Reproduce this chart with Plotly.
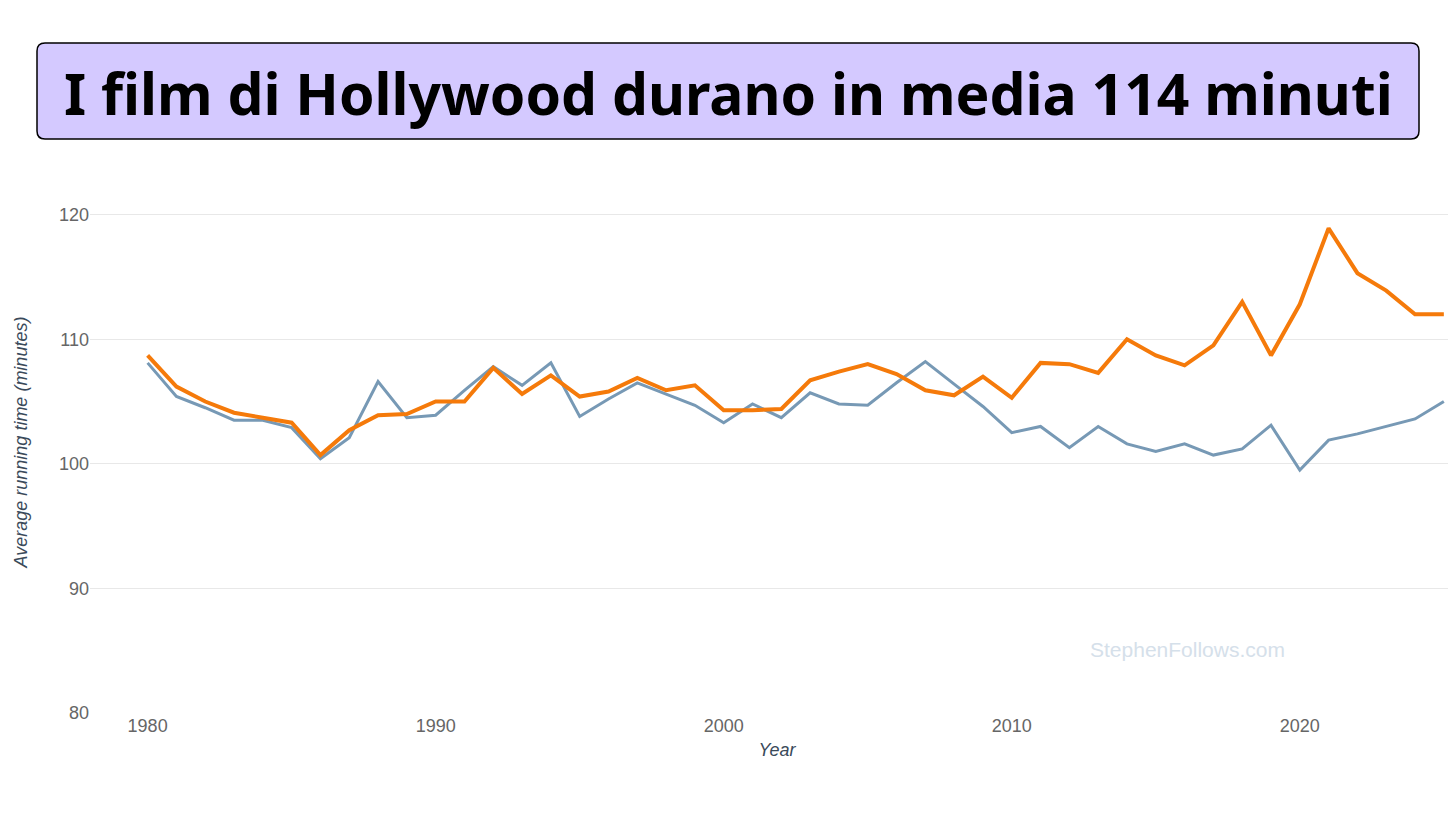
import plotly.graph_objects as go

years = list(range(1980, 2026))
all_films = [108.1, 105.4, 104.5, 103.5, 103.5, 102.9, 100.4, 102.1, 106.6, 103.7,
             103.9, 105.9, 107.8, 106.3, 108.1, 103.8, 105.2, 106.5, 105.6, 104.7,
             103.3, 104.8, 103.7, 105.7, 104.8, 104.7, 106.5, 108.2, 106.4, 104.6,
             102.5, 103.0, 101.3, 103.0, 101.6, 101.0, 101.6, 100.7, 101.2, 103.1,
             99.5, 101.9, 102.4, 103.0, 103.6, 105.0]
hollywood = [108.7, 106.2, 105.0, 104.1, 103.7, 103.3, 100.7, 102.7, 103.9, 104.0,
             105.0, 105.0, 107.7, 105.6, 107.1, 105.4, 105.8, 106.9, 105.9, 106.3,
             104.3, 104.3, 104.4, 106.7, 107.4, 108.0, 107.2, 105.9, 105.5, 107.0,
             105.3, 108.1, 108.0, 107.3, 110.0, 108.7, 107.9, 109.5, 113.0, 108.7,
             112.8, 118.9, 115.3, 113.9, 112.0, 112.0]

# the page adds an 8px body margin, so everything is laid out 8px up/left
OFF = 8
W, H = 1456, 819
L, T, R, B = 90 - OFF, 171 - OFF, 0, 819 - (713 - OFF)
pw, ph = W - L - R, H - T - B

def px(x):
    return (x - OFF - L) / pw

def py(y):
    return (H - B - (y - OFF)) / ph

fig = go.Figure()
fig.add_trace(go.Scatter(x=years, y=all_films, mode='lines',
                         line=dict(color='#7799b5', width=3), showlegend=False))
fig.add_trace(go.Scatter(x=years, y=hollywood, mode='lines',
                         line=dict(color='#f57a0a', width=4), showlegend=False))

# rounded title box
x0, x1, y0, y1, r = px(37), px(1419), py(139), py(43), 8
rx, ry = r / pw, r / ph
path = (f"M {x0+rx},{y0} L {x1-rx},{y0} Q {x1},{y0} {x1},{y0+ry} "
        f"L {x1},{y1-ry} Q {x1},{y1} {x1-rx},{y1} L {x0+rx},{y1} "
        f"Q {x0},{y1} {x0},{y1-ry} L {x0},{y0+ry} Q {x0},{y0} {x0+rx},{y0} Z")
fig.add_shape(type='path', path=path, xref='paper', yref='paper',
              fillcolor='#d4c9ff', line=dict(color='black', width=1.5))
fig.add_annotation(x=px(728), y=py(93), xref='paper', yref='paper', showarrow=False,
                   xanchor='center', yanchor='middle',
                   text='<b>I film di Hollywood durano in media 114 minuti</b>',
                   font=dict(family='Noto Sans', size=57, color='black'))
fig.add_annotation(x=px(1187), y=py(649), xref='paper', yref='paper', showarrow=False,
                   xanchor='center', yanchor='middle',
                   text='StephenFollows.com',
                   font=dict(family='Arial, Liberation Sans', size=21, color='#d5e0ea'))

fig.update_layout(
    width=W, height=H, margin=dict(l=L, r=R, t=T, b=B),
    plot_bgcolor='white', paper_bgcolor='white',
    font=dict(family='Arial, Liberation Sans', color='#666'),
    xaxis=dict(range=[1978, 2025.7], tickvals=[1980, 1990, 2000, 2010, 2020],
               showgrid=False, zeroline=False, ticks='', tickfont=dict(size=18),
               title=dict(text='<i>Year</i>', font=dict(size=18, color='#3a4a5a'), standoff=8)),
    yaxis=dict(range=[80, 123.5], tickvals=[80, 90, 100, 110, 120],
               gridcolor='#e8e8e8', zeroline=False, tickfont=dict(size=18), ticks='',
               title=dict(text='<i>Average running time (minutes)</i>',
                          font=dict(size=18, color='#3a4a5a'), standoff=26)),
)
fig.write_html("out.html")
